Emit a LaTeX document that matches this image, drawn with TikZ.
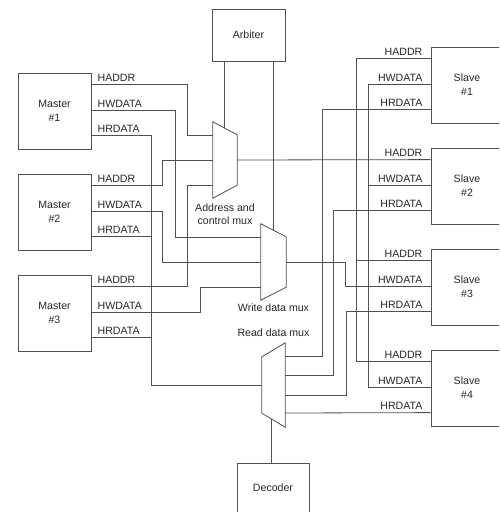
\documentclass[tikz,border=0pt]{standalone}
\usepackage{fontspec}
\setmainfont{Liberation Sans}
\usepackage{xcolor}
\usetikzlibrary{positioning, calc}
\definecolor{linegray}{RGB}{80,80,80}

\begin{document}
\begin{tikzpicture}[
  x=1pt, y=-1pt,
  every node/.style={font=\fontsize{10.6}{14}\selectfont, text=black!85},
  unit/.style={draw=linegray, line width=0.8pt, minimum width=73pt, minimum height=76pt, inner sep=0pt, align=center},
  muxbox/.style={inner sep=0pt, minimum width=24pt, minimum height=76pt},
  mux/.style={draw=linegray, line width=0.8pt, line join=miter},
  wire/.style={draw=linegray, line width=0.8pt},
  sig/.style={inner sep=0pt},
]
  \useasboundingbox (0,0) rectangle (499,512);
  \clip (0,0) rectangle (499,512);

  % Masters and Slaves
  \foreach \i in {1,2,3} {
    \node[unit] (m\i) at (54.5, {111+101*(\i-1)}) {Master\\\#\i};
    \coordinate (m\i-a) at ($(m\i.north east)+(0,12)$);
    \coordinate (m\i-w) at ($(m\i.north east)+(0,38)$);
    \coordinate (m\i-r) at ($(m\i.north east)+(0,63)$);
    \node[sig, anchor=base west] (m\i-al) at ($(m\i-a)+(6,-3.5)$) {HADDR};
    \node[sig, anchor=base west] (m\i-wl) at ($(m\i-w)+(6,-3.5)$) {HWDATA};
    \node[sig, anchor=base west] (m\i-rl) at ($(m\i-r)+(6,-3.5)$) {HRDATA};
  }
  \foreach \i in {1,...,4} {
    \node[unit, minimum width=72pt] (s\i) at (467, {85+101*(\i-1)}) {Slave\\\#\i};
    \coordinate (s\i-a) at ($(s\i.north west)+(0,12)$);
    \coordinate (s\i-w) at ($(s\i.north west)+(0,38)$);
    \coordinate (s\i-r) at ($(s\i.north west)+(0,63)$);
    \node[sig, anchor=base east] (s\i-al) at ($(s\i-a)+(-8,-3.5)$) {HADDR};
    \node[sig, anchor=base east] (s\i-wl) at ($(s\i-w)+(-8,-3.5)$) {HWDATA};
    \node[sig, anchor=base east] (s\i-rl) at ($(s\i-r)+(-8,-3.5)$) {HRDATA};
  }

  \node[unit, minimum height=52pt] (arb) at (248.5, 35) {Arbiter};
  \node[unit, minimum width=72pt, minimum height=50pt] (dec) at (273, 488) {Decoder};

  % Multiplexers
  \node[muxbox] (amux) at (225, 160) {};
  \node[muxbox, minimum width=25pt] (wmux) at (273.5, 262) {};
  \node[muxbox, minimum width=23pt, minimum height=84pt] (rmux) at (273.5, 385) {};
  \coordinate (amux-ne) at ($(amux.north east)+(0,13)$);
  \coordinate (amux-se) at ($(amux.south east)+(0,-13)$);
  \coordinate (wmux-ne) at ($(wmux.north east)+(0,13)$);
  \coordinate (wmux-se) at ($(wmux.south east)+(0,-13)$);
  \coordinate (rmux-nw) at ($(rmux.north west)+(0,14)$);
  \coordinate (rmux-sw) at ($(rmux.south west)+(0,-14)$);
  \draw[mux] (amux.north west) -- (amux-ne) -- (amux-se) -- (amux.south west) -- cycle;
  \draw[mux] (wmux.north west) -- (wmux-ne) -- (wmux-se) -- (wmux.south west) -- cycle;
  \draw[mux] (rmux.north east) -- (rmux.south east) -- (rmux-sw) -- (rmux-nw) -- cycle;

  \node[sig, align=center, font=\fontsize{10.6}{13.5}\selectfont, below=5pt of amux] (amux-lbl) {Address and\\control mux};
  \node[sig, below=3pt of wmux] (wmux-lbl) {Write data mux};
  \node[sig, above=6pt of rmux] (rmux-lbl) {Read data mux};

  % mux pins
  \coordinate (amux-1) at ($(amux.west)+(0,-25)$);
  \coordinate (amux-2) at (amux.west);
  \coordinate (amux-3) at ($(amux.west)+(0,25)$);
  \coordinate (wmux-1) at ($(wmux.west)+(0,-25)$);
  \coordinate (wmux-2) at (wmux.west);
  \coordinate (wmux-3) at ($(wmux.west)+(0,25)$);
  \coordinate (rmux-1) at ($(rmux.east)+(0,-29)$);
  \coordinate (rmux-2) at ($(rmux.east)+(0,-10)$);
  \coordinate (rmux-3) at ($(rmux.east)+(0,10)$);
  \coordinate (rmux-4) at ($(rmux.east)+(0,28)$);
  \coordinate (amux-sel) at ($(amux.north west)!0.46!(amux-ne)$);
  \coordinate (wmux-sel) at ($(wmux.north west)!0.48!(wmux-ne)$);
  \coordinate (rmux-sel) at ($(rmux-sw)!0.43!(rmux.south east)$);
  \coordinate (rbus) at ([xshift=-110pt]rmux.west);

  % select lines
  \draw[wire] (arb.south -| amux-sel) -- (amux-sel);
  \draw[wire] (arb.south -| wmux-sel) -- (wmux-sel);
  \draw[wire] (dec.north -| rmux-sel) -- (rmux-sel);

  % master side
  \draw[wire] (m1-a) -| ([xshift=-25pt]amux-1) -- (amux-1);
  \draw[wire] (m2-a) -| ([xshift=-50pt]amux-2) -- (amux-2);
  \draw[wire] (m3-a) -| ([xshift=-25pt]amux-3) -- (amux-3);
  \draw[wire] (m1-w) -| ([xshift=-85pt]wmux-1) -- (wmux-1);
  \draw[wire] (m2-w) -| ([xshift=-98pt]wmux-2) -- (wmux-2);
  \draw[wire] (m3-w) -| ([xshift=-60pt]wmux-3) -- (wmux-3);
  \draw[wire] (m1-r) -| (rbus) -- (rmux.west);
  \draw[wire] (m2-r) -- (m2-r -| rbus);
  \draw[wire] (m3-r) -- (m3-r -| rbus);

  % slave side
  \draw[wire] (amux.east) -- (s2-a);
  \draw[wire] (s1-a) -| ([xshift=-74pt]s4-a) -- (s4-a);
  \draw[wire] (s3-a) -- ([xshift=-74pt]s3-a);
  \draw[wire] (s1-w) -| ([xshift=-62pt]s4-w) -- (s4-w);
  \draw[wire] (s2-w) -- ([xshift=-62pt]s2-w);
  \draw[wire] (wmux.east) -| ([xshift=-85pt]s3-w) -- (s3-w);
  \draw[wire] (s1-r) -| ([xshift=37pt]rmux-1) -- (rmux-1);
  \draw[wire] (s2-r) -| ([xshift=48pt]rmux-2) -- (rmux-2);
  \draw[wire] (s3-r) -| ([xshift=61pt]rmux-3) -- (rmux-3);
  \draw[wire] (s4-r) -- (rmux-4);
\end{tikzpicture}
\end{document}
